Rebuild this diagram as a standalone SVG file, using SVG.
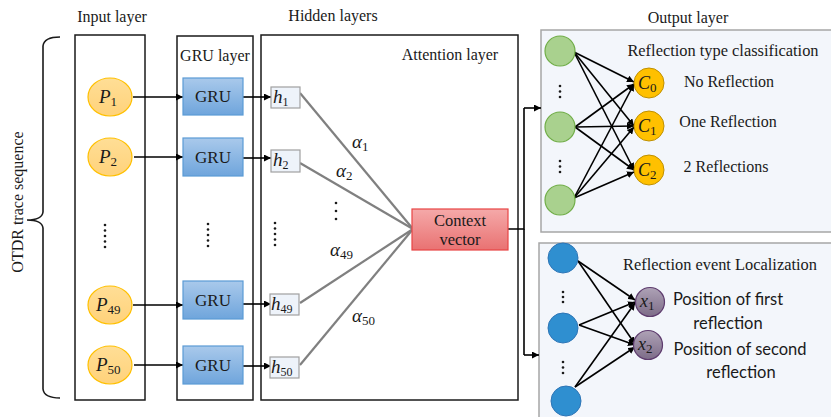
<svg xmlns="http://www.w3.org/2000/svg" width="831" height="417" viewBox="0 0 831 417">
<defs>
<marker id="ah" viewBox="0 0 10 10" refX="10" refY="5" markerWidth="7" markerHeight="7" orient="auto" markerUnits="userSpaceOnUse"><path d="M0,0 L10,5 L0,10 Z" fill="#000"/></marker>
<linearGradient id="gGru" x1="0" y1="0" x2="0" y2="1"><stop offset="0" stop-color="#A9C9EB"/><stop offset="1" stop-color="#6FA5DC"/></linearGradient>
<linearGradient id="gCtx" x1="0" y1="0" x2="0" y2="1"><stop offset="0" stop-color="#F5A9A9"/><stop offset="1" stop-color="#E97272"/></linearGradient>
<linearGradient id="gX" x1="0" y1="0" x2="0" y2="1"><stop offset="0" stop-color="#AEA2B6"/><stop offset="1" stop-color="#7D6C88"/></linearGradient>
<linearGradient id="gP" x1="0" y1="0" x2="0" y2="1"><stop offset="0" stop-color="#FFDE96"/><stop offset="1" stop-color="#FFD27A"/></linearGradient>
</defs>
<style>
.t{font-family:"Liberation Serif","Times New Roman",serif;fill:#1a1a1a}
.m{font-family:"Liberation Serif","Times New Roman",serif;font-style:italic;fill:#1a1a1a}
.s{font-style:normal}
.c{font-family:Lato,"Liberation Sans",sans-serif;fill:#1a1a1a}
.box{fill:#fff;stroke:#1a1a1a;stroke-width:1.5}
.out{fill:#F3F6FB;stroke:#A6A6A6;stroke-width:1.5}
.p{fill:url(#gP);stroke:#FFC000;stroke-width:1.2}
.gru{fill:url(#gGru);stroke:#5B9BD5;stroke-width:1.2}
.h{fill:#EEF3FA;stroke:#A0A0A0;stroke-width:1.2}
.ar{stroke:#000;stroke-width:1.6;fill:none;marker-end:url(#ah)}
.gl{stroke:#808080;stroke-width:2.2;fill:none}
.dot{fill:#1a1a1a}
</style>

<!-- layer titles -->
<text class="t" x="112" y="22" font-size="16" text-anchor="middle">Input layer</text>
<text class="t" x="333" y="21" font-size="16" text-anchor="middle">Hidden layers</text>
<text class="t" x="688" y="23" font-size="16" text-anchor="middle">Output layer</text>

<!-- bracket -->
<g id="bracket">
<path d="M60,37 Q44,37 43,46 L43,212 Q42,220 27,220 Q42,220 43,228 L43,389 Q44,398 60,398" fill="none" stroke="#1a1a1a" stroke-width="1.6"/>
<text class="t" font-size="16" text-anchor="middle" transform="translate(23,202) rotate(-90)">OTDR trace sequence</text>
</g>

<!-- layer boxes -->
<g id="input-layer"><rect class="box" x="75" y="35" width="70" height="365"/></g>
<g id="gru-layer"><rect class="box" x="177" y="36" width="76" height="364"/>
<text class="t" x="215" y="61" font-size="16" text-anchor="middle">GRU layer</text></g>
<g id="attention-layer"><rect class="box" x="261" y="35" width="257" height="365"/>
<text class="t" x="450" y="60" font-size="16" text-anchor="middle">Attention layer</text></g>

<g id="output-class"><rect class="out" x="541" y="30" width="300" height="202"/>
<text class="t" x="723" y="56" font-size="16.4" text-anchor="middle">Reflection type classification</text></g>
<g id="output-loc"><rect class="out" x="539" y="243" width="300" height="190"/>
<text class="t" x="720" y="270" font-size="16.4" text-anchor="middle">Reflection event Localization</text></g>

<!-- connectors -->
<g id="connectors">
<line class="ar" x1="133" y1="97" x2="183" y2="97"/>
<line class="ar" x1="134" y1="157" x2="183" y2="157"/>
<line class="ar" x1="133" y1="305" x2="183" y2="305"/>
<line class="ar" x1="134" y1="365" x2="183" y2="365"/>
<line class="ar" x1="243" y1="97" x2="271" y2="97"/>
<line class="ar" x1="243" y1="158" x2="271" y2="158"/>
<line class="ar" x1="243" y1="304" x2="271" y2="304"/>
<line class="ar" x1="243" y1="366" x2="271" y2="366"/>
<line class="gl" x1="300" y1="93" x2="413" y2="229"/>
<line class="gl" x1="300" y1="163" x2="413" y2="229"/>
<line class="gl" x1="300" y1="303" x2="413" y2="229"/>
<line class="gl" x1="300" y1="365" x2="413" y2="229"/>
<path d="M508,229 H524 V108" fill="none" stroke="#000" stroke-width="1.6"/>
<line class="ar" x1="524" y1="108" x2="541" y2="108"/>
<path d="M524,229 V355" fill="none" stroke="#000" stroke-width="1.6"/>
<line class="ar" x1="524" y1="355" x2="539" y2="355"/>
<!-- green to C -->
<line class="ar" x1="574" y1="52" x2="634" y2="82"/>
<line class="ar" x1="574" y1="52" x2="634" y2="126"/>
<line class="ar" x1="574" y1="52" x2="634" y2="170"/>
<line class="ar" x1="575" y1="127" x2="634" y2="84"/>
<line class="ar" x1="575" y1="127" x2="634" y2="126"/>
<line class="ar" x1="575" y1="127" x2="634" y2="170"/>
<line class="ar" x1="574" y1="198" x2="634" y2="84"/>
<line class="ar" x1="574" y1="198" x2="634" y2="127"/>
<line class="ar" x1="574" y1="198" x2="634" y2="172"/>
<!-- blue to x -->
<line class="ar" x1="578" y1="261" x2="635" y2="300"/>
<line class="ar" x1="578" y1="261" x2="635" y2="344"/>
<line class="ar" x1="579" y1="325" x2="635" y2="302"/>
<line class="ar" x1="579" y1="325" x2="635" y2="345"/>
<line class="ar" x1="575" y1="387" x2="635" y2="303"/>
<line class="ar" x1="575" y1="387" x2="635" y2="347"/>
</g>

<!-- P nodes -->
<g id="P1"><ellipse class="p" cx="110" cy="97" rx="22" ry="19"/><text class="m" x="99" y="103" font-size="19">P<tspan class="s" font-size="13" dy="3">1</tspan></text></g>
<g id="P2"><ellipse class="p" cx="110" cy="157" rx="22" ry="19"/><text class="m" x="99" y="163" font-size="19">P<tspan class="s" font-size="13" dy="3">2</tspan></text></g>
<g id="P49"><ellipse class="p" cx="110" cy="305" rx="22" ry="19"/><text class="m" x="96" y="311" font-size="19">P<tspan class="s" font-size="13" dy="3">49</tspan></text></g>
<g id="P50"><ellipse class="p" cx="110" cy="365" rx="22" ry="19"/><text class="m" x="96" y="371" font-size="19">P<tspan class="s" font-size="13" dy="3">50</tspan></text></g>

<!-- GRU nodes -->
<g id="GRU1"><rect class="gru" x="183" y="78" width="60" height="37"/><text class="t" x="213" y="102" font-size="17" text-anchor="middle">GRU</text></g>
<g id="GRU2"><rect class="gru" x="183" y="138" width="60" height="38"/><text class="t" x="213" y="163" font-size="17" text-anchor="middle">GRU</text></g>
<g id="GRU49"><rect class="gru" x="183" y="281" width="60" height="38"/><text class="t" x="213" y="306" font-size="17" text-anchor="middle">GRU</text></g>
<g id="GRU50"><rect class="gru" x="183" y="346" width="60" height="38"/><text class="t" x="213" y="371" font-size="17" text-anchor="middle">GRU</text></g>

<!-- h nodes -->
<g id="h1"><rect class="h" x="271" y="87" width="29" height="21"/><text class="m" x="273" y="103" font-size="19">h<tspan class="s" font-size="12" dy="3">1</tspan></text></g>
<g id="h2"><rect class="h" x="271" y="150" width="29" height="22"/><text class="m" x="273" y="166" font-size="19">h<tspan class="s" font-size="12" dy="3">2</tspan></text></g>
<g id="h49"><rect class="h" x="270" y="294" width="29" height="21"/><text class="m" x="271" y="310" font-size="19">h<tspan class="s" font-size="12" dy="3">49</tspan></text></g>
<g id="h50"><rect class="h" x="270" y="357" width="29" height="21"/><text class="m" x="271" y="373" font-size="19">h<tspan class="s" font-size="12" dy="3">50</tspan></text></g>

<!-- alpha labels -->
<g id="alphas">
<text class="m" x="352" y="148" font-size="19">α<tspan class="s" font-size="13" dy="3">1</tspan></text>
<text class="m" x="336" y="177" font-size="19">α<tspan class="s" font-size="13" dy="3">2</tspan></text>
<text class="m" x="330" y="256" font-size="19">α<tspan class="s" font-size="13" dy="3">49</tspan></text>
<text class="m" x="352" y="322" font-size="19">α<tspan class="s" font-size="13" dy="3">50</tspan></text>
</g>

<!-- context vector -->
<g id="context"><rect x="412" y="209" width="96" height="41" fill="url(#gCtx)" stroke="#E84545" stroke-width="1.2"/>
<text class="t" x="460" y="226" font-size="16.5" text-anchor="middle">Context</text>
<text class="t" x="460" y="245" font-size="16.5" text-anchor="middle">vector</text></g>

<!-- dots -->
<g id="dots">
<circle class="dot" cx="105" cy="225" r="1.3"/><circle class="dot" cx="105" cy="230.5" r="1.3"/><circle class="dot" cx="105" cy="236" r="1.3"/><circle class="dot" cx="105" cy="241.5" r="1.3"/><circle class="dot" cx="105" cy="247" r="1.3"/>
<circle class="dot" cx="208" cy="224" r="1.3"/><circle class="dot" cx="208" cy="229.5" r="1.3"/><circle class="dot" cx="208" cy="235" r="1.3"/><circle class="dot" cx="208" cy="240.5" r="1.3"/><circle class="dot" cx="208" cy="246" r="1.3"/>
<circle class="dot" cx="275" cy="223" r="1.3"/><circle class="dot" cx="275" cy="228.5" r="1.3"/><circle class="dot" cx="275" cy="234" r="1.3"/><circle class="dot" cx="275" cy="239.5" r="1.3"/><circle class="dot" cx="275" cy="245" r="1.3"/>
<circle class="dot" cx="336" cy="203" r="1.3"/><circle class="dot" cx="336" cy="211" r="1.3"/><circle class="dot" cx="336" cy="219" r="1.3"/>
<circle class="dot" cx="560" cy="86" r="1.3"/><circle class="dot" cx="560" cy="91.5" r="1.3"/><circle class="dot" cx="560" cy="97" r="1.3"/>
<circle class="dot" cx="560" cy="161" r="1.3"/><circle class="dot" cx="560" cy="166.5" r="1.3"/><circle class="dot" cx="560" cy="172" r="1.3"/>
<circle class="dot" cx="563" cy="292" r="1.3"/><circle class="dot" cx="563" cy="297" r="1.3"/><circle class="dot" cx="563" cy="302" r="1.3"/>
<circle class="dot" cx="563" cy="362" r="1.3"/><circle class="dot" cx="563" cy="367.5" r="1.3"/><circle class="dot" cx="563" cy="373" r="1.3"/>
</g>

<!-- green nodes -->
<g id="g1"><circle cx="560" cy="51" r="15" fill="#A9D18E" stroke="#70AD47" stroke-width="1.2"/></g>
<g id="g2"><circle cx="560" cy="127" r="15" fill="#A9D18E" stroke="#70AD47" stroke-width="1.2"/></g>
<g id="g3"><circle cx="560" cy="200" r="15" fill="#A9D18E" stroke="#70AD47" stroke-width="1.2"/></g>

<!-- C nodes -->
<g id="C0"><circle cx="649" cy="83" r="15" fill="#FFC000" stroke="#BF9000" stroke-width="1"/><text class="m" x="638" y="89" font-size="18">C<tspan class="s" font-size="13" dy="3">0</tspan></text>
<text class="t" x="729" y="87" font-size="16" text-anchor="middle">No Reflection</text></g>
<g id="C1"><circle cx="649" cy="126" r="15" fill="#FFC000" stroke="#BF9000" stroke-width="1"/><text class="m" x="638" y="132" font-size="18">C<tspan class="s" font-size="13" dy="3">1</tspan></text>
<text class="t" x="728" y="127" font-size="16" text-anchor="middle">One Reflection</text></g>
<g id="C2"><circle cx="649" cy="170" r="15" fill="#FFC000" stroke="#BF9000" stroke-width="1"/><text class="m" x="638" y="176" font-size="18">C<tspan class="s" font-size="13" dy="3">2</tspan></text>
<text class="t" x="726" y="172" font-size="16" text-anchor="middle">2 Reflections</text></g>

<!-- blue nodes -->
<g id="b1"><circle cx="563" cy="258" r="15" fill="#2F8FD0" stroke="#2E75B6" stroke-width="1"/></g>
<g id="b2"><circle cx="563" cy="328" r="15" fill="#2F8FD0" stroke="#2E75B6" stroke-width="1"/></g>
<g id="b3"><circle cx="566" cy="401" r="15" fill="#2F8FD0" stroke="#2E75B6" stroke-width="1"/></g>

<!-- x nodes -->
<g id="x1"><circle cx="650" cy="302" r="14.5" fill="url(#gX)" stroke="#5E3C6E" stroke-width="1.2"/><text class="m" x="640" y="307" font-size="18">x<tspan class="s" font-size="13" dy="3">1</tspan></text>
<text class="c" x="728" y="305" font-size="16.5" text-anchor="middle">Position of first</text>
<text class="c" x="728" y="329" font-size="16.5" text-anchor="middle">reflection</text></g>
<g id="x2"><circle cx="648" cy="345" r="14.5" fill="url(#gX)" stroke="#5E3C6E" stroke-width="1.2"/><text class="m" x="638" y="350" font-size="18">x<tspan class="s" font-size="13" dy="3">2</tspan></text>
<text class="c" x="740" y="355" font-size="16.5" text-anchor="middle">Position of second</text>
<text class="c" x="741" y="378" font-size="16.5" text-anchor="middle">reflection</text></g>
</svg>
